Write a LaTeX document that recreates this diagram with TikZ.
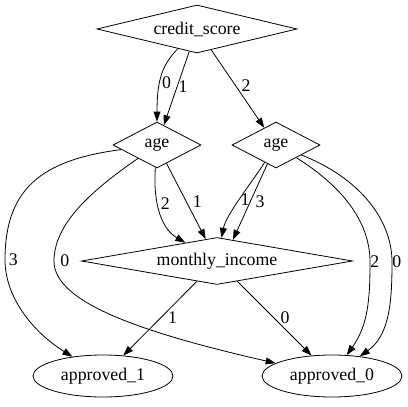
\documentclass[tikz,border=0pt]{standalone}
\usepackage{fontspec}
\setmainfont{Liberation Serif}
\usetikzlibrary{shapes.geometric,arrows.meta}

\tikzset{
  decision/.style={draw, shape=diamond, inner sep=0pt, line width=0.8pt},
  hoja/.style={draw, ellipse, minimum width=140pt, minimum height=42pt, inner sep=0pt, line width=0.8pt},
  rama/.style={-{Triangle[length=10pt,width=7pt]}, line width=0.8pt},
  etiq/.style={right, inner sep=1pt}
}

\begin{document}
\begin{tikzpicture}[x=1pt, y=-1pt, font=\fontsize{17.8}{20}\selectfont]
  \useasboundingbox (0,0) rectangle (408,407);

  % Nodos de decision
  \node[decision, aspect=4.17, minimum width=200pt, minimum height=48pt] (cs) at (197,29) {credit\_score};
  \node[decision, aspect=1.9, minimum width=88pt, minimum height=46pt] (edad1) at (157,145) {age};
  \node[decision, aspect=1.9, minimum width=88pt, minimum height=46pt] (edad2) at (276,145) {age};
  \node[decision, aspect=5.77, minimum width=271pt, minimum height=47pt] (ingreso) at (217,261) {monthly\_income};

  % Hojas
  \node[hoja] (ap1) at (103,376) {approved\_1};
  \node[hoja] (ap0) at (332,376) {approved\_0};

  % Ramas de credit_score
  \draw[rama] (cs) .. controls (162,65) and (157,80) .. (edad1) node[etiq, pos=0.6, xshift=1pt] {0};
  \draw[rama] (cs) -- (edad1) node[etiq, pos=0.47] {1};
  \draw[rama] (cs) -- (edad2) node[etiq, pos=0.46, xshift=4.5pt] {2};

  % Ramas del primer age
  \draw[rama] (edad1) .. controls (153,200) and (160,228) .. (ingreso) node[etiq, pos=0.4, xshift=2pt] {2};
  \draw[rama] (edad1) -- (ingreso) node[etiq, pos=0.51, xshift=5pt] {1};
  \draw[rama] (edad1) .. controls (40,160) and (5,190) .. (5,260) node[etiq, xshift=2.5pt] {3}
    .. controls (5,295) and (30,330) .. (ap1);
  \draw[rama] (edad1) .. controls (100,185) and (54,220) .. (54,261) node[etiq, xshift=5pt] {0}
    .. controls (54,300) and (130,330) .. (ap0);

  % Ramas del segundo age
  \draw[rama] (edad2) .. controls (250,185) and (226,215) .. (ingreso) node[etiq, pos=0.5] {1};
  \draw[rama] (edad2) -- (ingreso.53) node[etiq, pos=0.5, xshift=4pt] {3};
  \draw[rama] (edad2) .. controls (340,185) and (370,220) .. (370,262) node[etiq, xshift=-1pt] {2}
    .. controls (370,300) and (368,325) .. (ap0);
  \draw[rama] (edad2) .. controls (360,178) and (392,220) .. (392,262) node[etiq, xshift=-1pt] {0}
    .. controls (392,300) and (390,335) .. (ap0);

  % Ramas de monthly_income
  \draw[rama] (ingreso) -- (ap1) node[etiq, pos=0.49, xshift=6pt] {1};
  \draw[rama] (ingreso) -- (ap0) node[etiq, pos=0.49, xshift=5.5pt] {0};
\end{tikzpicture}
\end{document}
